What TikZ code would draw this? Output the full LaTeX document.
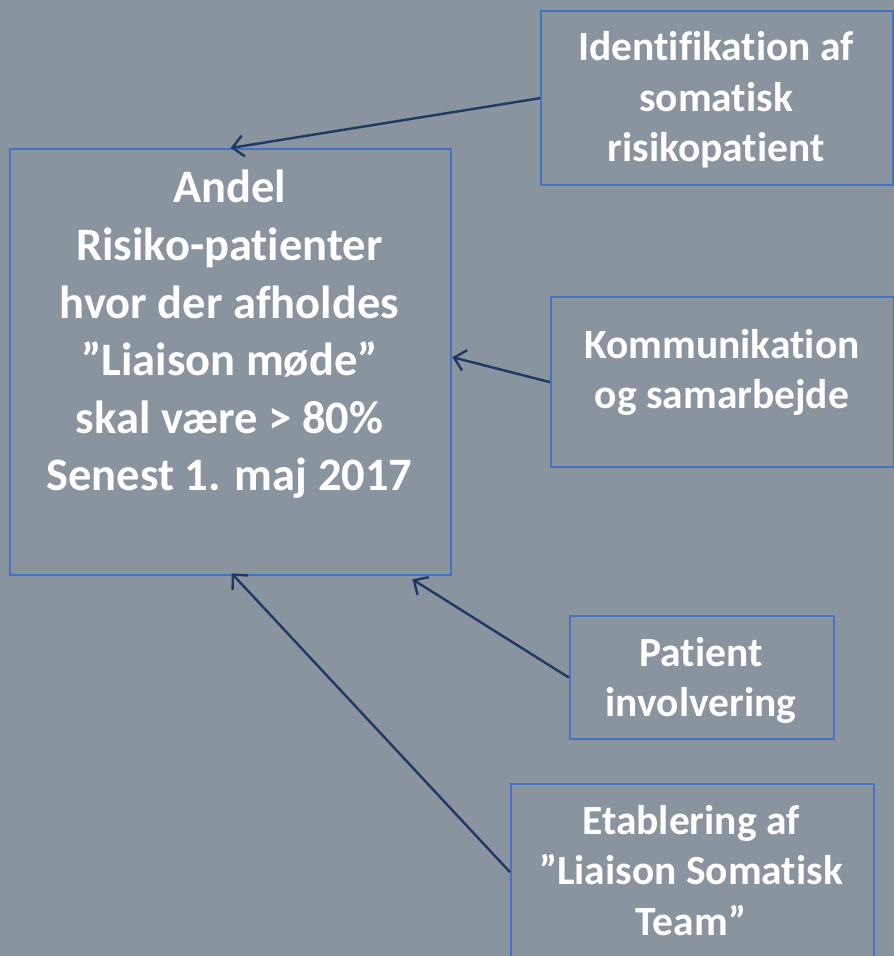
\documentclass[tikz,border=0pt]{standalone}
\usepackage{fontspec}
\setmainfont{Carlito}[Ligatures=NoCommon]
\usetikzlibrary{arrows.meta,calc}
\definecolor{bgc}{RGB}{138,148,158}
\definecolor{boxline}{RGB}{68,114,196}
\definecolor{arrowc}{RGB}{31,56,100}
\tikzset{
  box/.style={draw=boxline, line width=2.3pt, anchor=north west, inner sep=0pt},
  maintxt/.style={text=white, align=center, font=\bfseries\fontsize{46.5}{57.6}\selectfont, inner sep=0pt},
  sidetxt/.style={text=white, align=center, font=\bfseries\fontsize{41.5}{50.5}\selectfont, inner sep=0pt},
  link/.style={draw=arrowc, line width=2.4pt, -{Straight Barb[length=11pt,width=21pt,line width=2.4pt]}}
}
\begin{document}
\begin{tikzpicture}[x=1pt,y=-1pt]
  \fill[bgc] (0,0) rectangle (894,956);
  \useasboundingbox (0,0) rectangle (894,956);

  % central target box
  \node[box, minimum width=441pt, minimum height=426pt] (main) at (9,148) {};
  \node[maintxt, anchor=north] (maintext) at (229.5,170)
    {Andel\\Risiko-patienter\\hvor der afholdes\\”Liaison møde”\\skal være > 80\%\\Senest 1. maj 2017};

  % contributing factors
  \node[box, minimum width=352pt, minimum height=174pt] (ident) at (540,10) {};
  \node[sidetxt] (identtext) at (716,100) {Identifikation af\\somatisk\\risikopatient};

  \node[box, minimum width=343pt, minimum height=170pt] (komm) at (550,296) {};
  \node[sidetxt] (kommtext) at (722,372.5) {Kommunikation\\og samarbejde};

  \node[box, minimum width=264pt, minimum height=123pt] (pat) at (569,615) {};
  \node[sidetxt] (pattext) at (701,680.5) {Patient\\involvering};

  \node[box, minimum width=363pt, minimum height=176pt] (etab) at (510,783) {};
  \node[sidetxt] (etabtext) at (691,870.5) {Etablering af\\”Liaison Somatisk\\Team”};

  % arrows into the target box
  \draw[link] (ident.west) -- (main.north);
  \draw[link] (komm.west) -- ([yshift=5pt]main.east);
  \draw[link] (pat.west) -- ($(main.south)!0.82!(main.south east)+(0,3)$);
  \draw[link] (etab.west) -- ($(main.south)+(1,-3)$);
\end{tikzpicture}
\end{document}
